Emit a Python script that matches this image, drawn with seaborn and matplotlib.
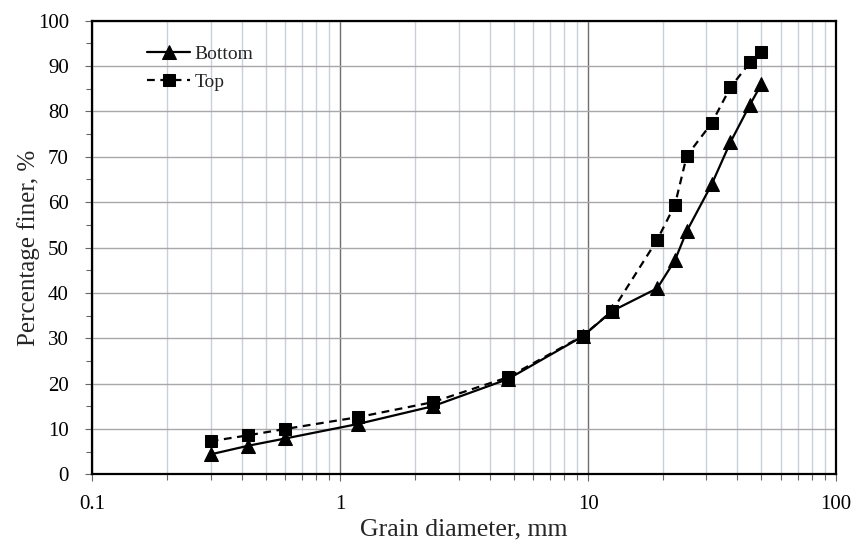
import matplotlib
matplotlib.use("Agg")
import matplotlib.pyplot as plt
import matplotlib.ticker as mticker
import seaborn as sns
import pandas as pd

sieve_mm = [0.3, 0.425, 0.6, 1.18, 2.36, 4.75, 9.5, 12.5, 19, 22.4, 25, 31.5, 37.5, 45, 50]
bottom = [4.4, 6.3, 7.9, 11.1, 15.0, 21.0, 30.4, 36.0, 41.0, 47.2, 53.6, 63.9, 73.2, 81.5, 86.0]
top = [7.3, 8.6, 10.0, 12.6, 15.9, 21.4, 30.5, 36.0, 51.7, 59.4, 70.2, 77.4, 85.3, 90.8, 93.0]
x_ticks = [0.1, 1, 10, 100]
x_ticklabels = ["0.1", "1", "10", "100"]

sns.set_style("white")
plt.rcParams['font.family'] = ['Liberation Serif', 'DejaVu Serif']

df_b = pd.DataFrame({"d": sieve_mm, "p": bottom})
df_t = pd.DataFrame({"d": sieve_mm, "p": top})

fig = plt.figure(figsize=(8.56, 5.46), dpi=100)
ax = fig.add_axes([0.108, 0.1313, 0.8686, 0.8308])

ax.set_xscale("log")
ax.set_xlim(0.1, 100)
ax.set_ylim(0, 100)

# grid
ax.xaxis.set_minor_locator(mticker.LogLocator(base=10, subs=range(2, 10)))
ax.grid(which="minor", axis="x", color="#c9d0d8", linewidth=1.0, zorder=0)
ax.grid(which="major", axis="x", color="#6e6e6e", linewidth=1.0, zorder=0)
ax.grid(which="major", axis="y", color="#a8a8a8", linewidth=1.0, zorder=0)
ax.set_axisbelow(True)

sns.lineplot(data=df_b, x="d", y="p", ax=ax, color="black", linewidth=1.6,
             marker="^", markersize=10, markeredgecolor="black", label="Bottom")
sns.lineplot(data=df_t, x="d", y="p", ax=ax, color="black", linewidth=1.6,
             linestyle=(0, (3.5, 2.5)), marker="s", markersize=8.5,
             markeredgecolor="black", label="Top")

ax.set_xticks(x_ticks)
ax.set_xticklabels(x_ticklabels)
ax.xaxis.set_minor_formatter(mticker.NullFormatter())
ax.set_yticks(range(0, 101, 10))
ax.yaxis.set_minor_locator(mticker.MultipleLocator(5))

ax.tick_params(which="both", direction="out", length=5, width=0.8, color="#666666",
               labelsize=15, labelcolor="black", bottom=True, left=True)
ax.tick_params(axis="x", which="major", pad=10)
ax.tick_params(axis="y", which="major", pad=12)
ax.tick_params(which="minor", length=4)

for s in ax.spines.values():
    s.set_visible(True)
    s.set_color("black")
    s.set_linewidth(1.6)

ax.set_xlabel("Grain diameter, mm", fontsize=18.5)
ax.set_ylabel("Percentage finer, %", fontsize=18)
ax.xaxis.set_label_coords(0.5, -0.098)
ax.yaxis.set_label_coords(-0.0706, 0.5)

leg = ax.legend(loc="upper left", bbox_to_anchor=(0.058, 0.972), frameon=False,
                fontsize=14, handlelength=2.2, handletextpad=0.25, labelspacing=0.55,
                borderaxespad=0.2)

fig.savefig("out.png", dpi=100)
